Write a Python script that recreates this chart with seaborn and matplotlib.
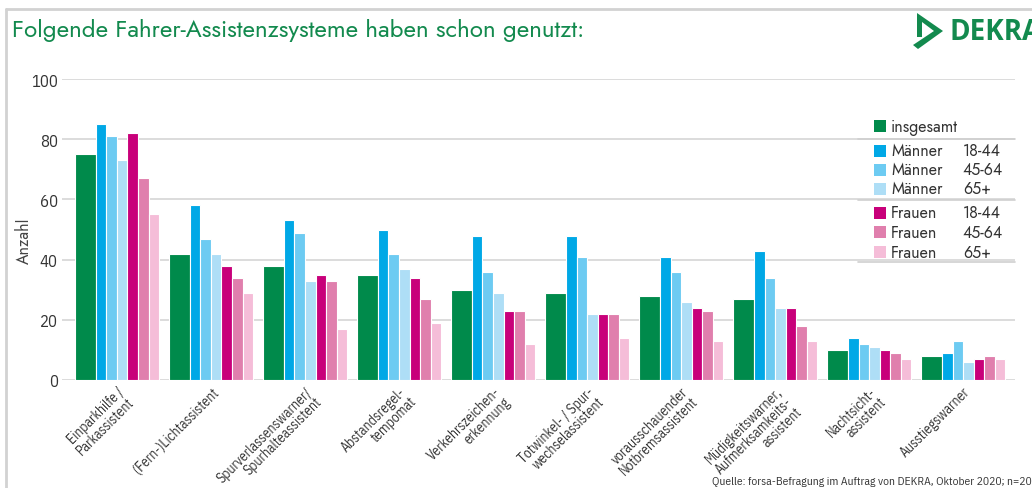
import matplotlib
matplotlib.use("Agg")
import matplotlib.pyplot as plt
from matplotlib.patches import Rectangle, Polygon
from matplotlib.lines import Line2D
import seaborn as sns
import pandas as pd

categories = [
    "Einparkhilfe /\nParkassistent",
    "(Fern-)Lichtassistent",
    "Spurverlassenswarner/\nSpurhalteassistent",
    "Abstandsregel-\ntempomat",
    "Verkehrszeichen-\nerkennung",
    "Totwinkel- / Spur-\nwechselassistent",
    "vorausschauender\nNotbremsassistent",
    "Müdigkeitswarner,\nAufmerksamkeits-\nassistent",
    "Nachtsicht-\nassistent",
    "Ausstiegswarner",
]
series = ["insgesamt", "Männer 18-44", "Männer 45-64", "Männer 65+",
          "Frauen 18-44", "Frauen 45-64", "Frauen 65+"]
legend_names = ["insgesamt", "Männer", "Männer", "Männer", "Frauen", "Frauen", "Frauen"]
legend_ages = ["", "18-44", "45-64", "65+", "18-44", "45-64", "65+"]

insgesamt    = [75, 42, 38, 35, 30, 29, 28, 27, 10, 8]
maenner_1844 = [85, 58, 53, 50, 48, 48, 41, 43, 14, 9]
maenner_4564 = [81, 47, 49, 42, 36, 41, 36, 34, 12, 13]
maenner_65   = [73, 42, 33, 37, 29, 22, 26, 24, 11, 6]
frauen_1844  = [82, 38, 35, 34, 23, 22, 24, 24, 10, 7]
frauen_4564  = [67, 34, 33, 27, 23, 22, 23, 18, 9, 8]
frauen_65    = [55, 29, 17, 19, 12, 14, 13, 13, 7, 7]
values = [insgesamt, maenner_1844, maenner_4564, maenner_65,
          frauen_1844, frauen_4564, frauen_65]

yticks = [0, 20, 40, 60, 80, 100]

colors = ["#008A4B", "#00A8E6", "#6DCBF2", "#AEDEF6",
          "#C8007A", "#E07FAD", "#F5BDD8"]

rows = []
for s, vals in zip(series, values):
    for c, v in zip(categories, vals):
        rows.append({"system": c, "gruppe": s, "wert": v})
df = pd.DataFrame(rows)

sns.set_theme(style="white")
narrow = ["IBM Plex Sans Condensed", "DejaVu Sans"]
geo = ["Jost", "Lato", "DejaVu Sans"]
plt.rcParams["font.family"] = geo

W = 1032 / 100
H = 489 / 100
fig = plt.figure(figsize=(W, H), dpi=100)
ax = fig.add_axes([62 / 1032, 108 / 489, (1015 - 62) / 1032, (381 - 80) / 489])

GW = 0.894
sns.barplot(data=df, x="system", y="wert", hue="gruppe", order=categories,
            hue_order=series, palette=colors, width=GW, legend=False,
            edgecolor="white", linewidth=0.8, saturation=1, ax=ax)

# insgesamt bar twice as wide as the age-group bars
n = len(series)
slot = GW / (n + 1)
for k, cont in enumerate(ax.containers):
    for bar in cont:
        c = bar.get_x() + bar.get_width() / 2
        g = c - (k - (n - 1) / 2) * GW / n
        if k == 0:
            bar.set_x(g - GW / 2)
            bar.set_width(2 * slot)
        else:
            bar.set_x(g - GW / 2 + (k + 1) * slot)
            bar.set_width(slot)

ax.set_xlim(-0.585, len(categories) - 1 + 0.553)
ax.set_ylim(0, 100)
ax.set_yticks(yticks)
ax.set_yticklabels([str(t) for t in yticks], family=narrow, fontsize=12, color="#333333")
ax.yaxis.grid(True, color="#D6D6D6", linewidth=1.2)
ax.set_axisbelow(True)
for sp in ax.spines.values():
    sp.set_visible(False)
ax.tick_params(axis="y", length=0, pad=3)
ax.tick_params(axis="x", length=0, pad=3)
ax.set_xlabel("")
ax.set_ylabel("Anzahl", fontsize=11.5, color="#444444")
ax.yaxis.set_label_coords(-0.03, 0.465)
ax.set_xticks(range(len(categories)))
ax.set_xticklabels(categories, rotation=45, ha="right", va="top",
                   rotation_mode="anchor", multialignment="right",
                   family=narrow, fontsize=9.8, color="#333333", linespacing=1.0)

# legend (manual, with separator lines)
row_y = [127, 152, 171, 190, 214, 233, 253]
for k in range(n):
    y = row_y[k]
    fig.patches.append(Rectangle((874 / 1032, 1 - (y + 6) / 489), 12 / 1032, 12 / 489,
                                 transform=fig.transFigure, facecolor=colors[k],
                                 edgecolor="none"))
    fig.text(891 / 1032, 1 - y / 489, legend_names[k], fontsize=11.5, color="#333333",
             va="center", ha="left")
    if legend_ages[k]:
        fig.text(963 / 1032, 1 - y / 489, legend_ages[k], fontsize=11.5, color="#333333",
                 va="center", ha="left")
for ly in [140, 201, 263]:
    fig.lines.append(Line2D([858 / 1032, 1015 / 1032], [1 - ly / 489] * 2,
                            transform=fig.transFigure, color="#CFCFCF", linewidth=1.2))

# frame
fig.lines.append(Line2D([6 / 1032, 1.0], [1 - 10 / 489] * 2, transform=fig.transFigure,
                        color="#D2D2D2", linewidth=2))
fig.lines.append(Line2D([6 / 1032] * 2, [0, 1 - 10 / 489], transform=fig.transFigure,
                        color="#D2D2D2", linewidth=2))

# title
fig.text(12 / 1032, 1 - 31 / 489, "Folgende Fahrer-Assistenzsysteme haben schon genutzt:",
         fontsize=17.4, color="#138A4E", va="center", ha="left")

# DEKRA logo
px = lambda x, y: (x / 1032, 1 - y / 489)
logo = [px(917, 14), px(943, 32), px(918, 50), px(913, 46), px(934, 32), px(922, 23),
        px(922, 38), px(917, 38)]
fig.patches.append(Polygon(logo, closed=True, transform=fig.transFigure,
                           facecolor="#138A4E", edgecolor="none"))
fig.text(949 / 1032, 1 - 33 / 489, "DEKRA", fontsize=20, fontweight="bold",
         color="#138A4E", va="center", ha="left", family=["Open Sans", "DejaVu Sans"])

# source
fig.text(712 / 1032, 1 - 482 / 489,
         "Quelle: forsa-Befragung im Auftrag von DEKRA, Oktober 2020; n=2000",
         fontsize=8.3, color="#333333", va="center", ha="left", family=narrow)

fig.savefig("out.png", dpi=100)
